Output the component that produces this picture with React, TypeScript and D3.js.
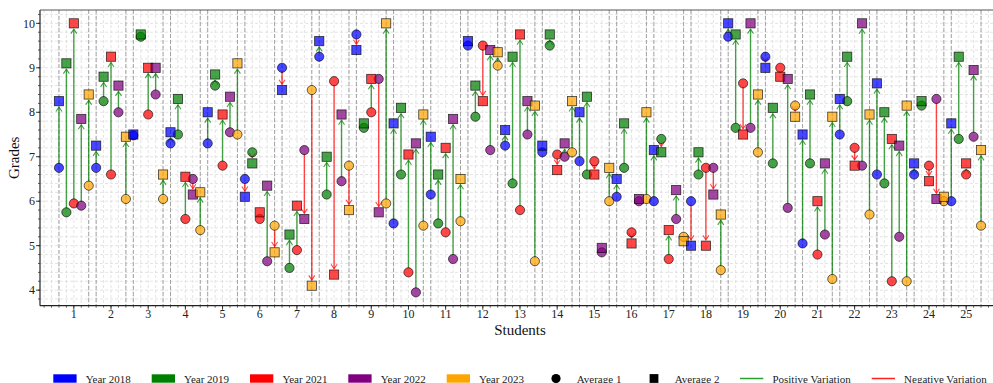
import React from 'react';
import * as d3 from 'd3';

// Students 1..25, one group of five years each
const students = d3.range(1, 26);
const years = ['2018', '2019', '2021', '2022', '2023'];
const yearColors = ['#0000ff', '#008000', '#ff0000', '#800080', '#ffa500'];

// Average 1 (circles) per year
const avg1_2018 = [6.75, 6.75, 7.48, 7.3, 7.3, 6.5, 9.0, 9.25, 9.75, 5.5, 6.15, 9.5, 7.25, 7.1, 6.9, 6.1, 6.0, 6.0, 9.7, 9.25, 5.05, 7.5, 6.6, 6.6, 6.0];
const avg1_2019 = [5.75, 8.25, 9.7, 7.5, 8.6, 7.1, 4.5, 6.15, 7.65, 6.6, 5.5, 7.9, 6.4, 9.5, 6.6, 6.75, 7.4, 6.6, 7.65, 6.85, 6.85, 8.25, 6.4, 8.15, 7.4];
const avg1_2021 = [5.95, 6.6, 7.95, 5.6, 6.8, 5.6, 4.9, 8.7, 8.0, 4.4, 5.3, 9.5, 5.8, 7.05, 6.9, 5.3, 4.7, 6.75, 8.65, 9.0, 4.8, 7.2, 4.2, 6.8, 6.6];
const avg1_2022 = [5.9, 8.0, 8.4, 6.5, 7.55, 4.65, 7.15, 6.45, 8.75, 3.95, 4.7, 7.15, 7.5, 7.0, 4.85, 6.0, 5.6, 6.75, 7.65, 5.85, 5.25, 6.8, 5.2, 8.3, 7.45];
const avg1_2023 = [6.35, 6.05, 6.05, 5.35, 7.5, 5.45, 8.5, 6.8, 5.95, 5.45, 5.55, 9.05, 4.65, 7.1, 6.0, 6.05, 5.2, 4.45, 7.1, 8.15, 4.25, 5.7, 4.2, 6.0, 5.45];

// Average 2 (squares) per year
const avg2_2018 = [8.25, 7.25, 7.5, 7.55, 8.0, 6.1, 8.5, 9.6, 9.4, 7.75, 7.45, 9.6, 7.6, 7.25, 8.0, 6.5, 7.15, 5.0, 10.0, 9.0, 7.5, 8.3, 8.65, 6.85, 7.75];
const avg2_2019 = [9.1, 8.8, 9.75, 8.3, 8.85, 6.85, 5.25, 7.0, 7.75, 8.1, 6.6, 8.6, 9.25, 9.75, 8.35, 7.75, 7.1, 7.1, 9.75, 8.1, 8.4, 9.25, 8.0, 8.25, 9.25];
const avg2_2021 = [10.0, 9.25, 9.0, 6.55, 7.95, 5.75, 5.9, 4.35, 8.75, 7.05, 7.2, 8.25, 9.75, 6.7, 6.6, 5.05, 5.35, 5.0, 7.5, 8.8, 6.0, 6.8, 7.4, 6.45, 6.85];
const avg2_2022 = [7.85, 8.6, 9.0, 6.15, 8.35, 6.35, 5.6, 7.95, 5.75, 7.3, 7.85, 9.4, 8.25, 7.3, 4.95, 6.05, 6.25, 6.15, 10.0, 8.75, 6.85, 10.0, 7.25, 6.05, 8.95];
const avg2_2023 = [8.4, 7.45, 6.6, 6.2, 9.1, 4.85, 4.1, 5.8, 10.0, 7.95, 6.5, 9.35, 8.15, 8.25, 6.75, 8.0, 5.1, 5.7, 8.4, 7.9, 7.9, 7.95, 8.15, 6.1, 7.15];

const avg1 = [avg1_2018, avg1_2019, avg1_2021, avg1_2022, avg1_2023];
const avg2 = [avg2_2018, avg2_2019, avg2_2021, avg2_2022, avg2_2023];
const yearOffsets = [-0.4, -0.2, 0, 0.2, 0.4];

const yTicks = [4, 5, 6, 7, 8, 9, 10];
const legendLabels = ['Year 2018', 'Year 2019', 'Year 2021', 'Year 2022', 'Year 2023', 'Average 1', 'Average 2', 'Positive Variation', 'Negative Variation'];

const W = 993;
const H = 383;
const font = "'Liberation Serif', 'Times New Roman', serif";

const App = () => {
  const x = d3.scaleLinear().domain([0.09, 25.91]).range([40, 1000]);
  const y = d3.scaleLinear().domain([3.65, 10.3]).range([305.7, 10]);
  const [x0, x1] = x.range();
  const [y0, y1] = y.range();

  const minorX = d3.range(1, 130).map(i => +(i * 0.2).toFixed(1)).filter(v => v < 25.91);
  const minorY = d3.range(19, 52).map(i => +(i * 0.2).toFixed(1));
  const groupEdges = students.flatMap(s => [s - 0.4, s + 0.4]);

  // one point record per student & year
  const points = students.flatMap((s, si) =>
    years.map((yr, yi) => ({
      key: `${s}-${yr}`,
      xv: s + yearOffsets[yi],
      a: avg1[yi][si],
      b: avg2[yi][si],
      color: yearColors[yi],
    }))
  );

  const arrow = (p) => {
    const px = x(p.xv);
    const ya = y(p.a);
    const yb = y(p.b);
    const d = yb - ya;
    if (Math.abs(d) < 10) return null;
    const dir = Math.sign(d);
    const tip = yb - dir * 5.8;
    const start = ya + dir * 4;
    const col = p.b >= p.a ? '#008000' : '#ff0000';
    return (
      <g key={'a' + p.key} stroke={col} strokeOpacity={0.72} fill="none" strokeWidth={1.4}>
        <line x1={px} x2={px} y1={start} y2={tip} />
        <path d={`M${px - 3},${tip - dir * 4.5} L${px},${tip} L${px + 3},${tip - dir * 4.5}`} strokeWidth={1.1} />
      </g>
    );
  };

  const legendX = [53.3, 151.7, 250, 348.3, 446.7, 544.3, 642.3, 740, 871.7];
  const legendY = 378.5;

  return (
    <svg width={W} height={H} style={{ position: 'absolute', left: 0, top: 0, background: '#fff' }} fontFamily={font}>
      <defs>
        <clipPath id="plot">
          <rect x={x0} y={y1} width={x1 - x0} height={y0 - y1} />
        </clipPath>
      </defs>

      {/* grid */}
      <g clipPath="url(#plot)">
        {minorX.map(v => (
          <line key={'gx' + v} x1={x(v)} x2={x(v)} y1={y1} y2={y0} stroke="#d9d9d9" strokeWidth={0.7} strokeDasharray="3,2" />
        ))}
        {minorY.map(v => (
          <line key={'gy' + v} x1={x0} x2={x1} y1={y(v)} y2={y(v)} stroke="#d9d9d9" strokeWidth={0.7} strokeDasharray="3,2" />
        ))}
        {groupEdges.map((v, i) => (
          <line key={'ge' + i} x1={x(v)} x2={x(v)} y1={y1} y2={y0} stroke="#9a9a9a" strokeWidth={0.9} strokeDasharray="4,2" />
        ))}
      </g>

      {/* arrows and markers */}
      <g clipPath="url(#plot)">
        {points.map(arrow)}
        {points.map(p => (
          <circle key={'c' + p.key} cx={x(p.xv)} cy={y(p.a)} r={4.6} fill={p.color} fillOpacity={0.72} stroke="#000" strokeOpacity={0.75} strokeWidth={0.8} />
        ))}
        {points.map(p => (
          <rect key={'s' + p.key} x={x(p.xv) - 4.6} y={y(p.b) - 4.6} width={9.2} height={9.2} fill={p.color} fillOpacity={0.72} stroke="#000" strokeOpacity={0.75} strokeWidth={0.8} />
        ))}
      </g>

      {/* axes frame */}
      <line x1={x0} x2={x0} y1={y1} y2={y0} stroke="#222" strokeWidth={1.2} />
      <line x1={x0} x2={x1} y1={y0} y2={y0} stroke="#222" strokeWidth={1.2} />
      <line x1={x0} x2={x1} y1={y1} y2={y1} stroke="#555" strokeWidth={1} />
      <line x1={x1} x2={x1} y1={y1} y2={y0} stroke="#555" strokeWidth={1} />

      {/* y ticks */}
      {minorY.map(v => (
        <line key={'ty' + v} x1={x0 - 2} x2={x0} y1={y(v)} y2={y(v)} stroke="#222" strokeWidth={0.7} />
      ))}
      {yTicks.map(v => (
        <g key={'yt' + v}>
          <line x1={x0 - 4} x2={x0} y1={y(v)} y2={y(v)} stroke="#222" strokeWidth={0.9} />
          <text x={x0 - 5} y={y(v)} dy="0.35em" textAnchor="end" fontSize={12} fill="#222">{v}</text>
        </g>
      ))}

      {/* x ticks */}
      {minorX.map(v => (
        <line key={'tx' + v} x1={x(v)} x2={x(v)} y1={y0} y2={y0 + 2} stroke="#222" strokeWidth={0.7} />
      ))}
      {students.map(s => (
        <g key={'xt' + s}>
          <line x1={x(s)} x2={x(s)} y1={y0} y2={y0 + 4} stroke="#222" strokeWidth={0.9} />
          <text x={x(s)} y={318} textAnchor="middle" fontSize={12} fill="#222">{s}</text>
        </g>
      ))}

      {/* axis titles */}
      <text transform={`translate(19,${(y0 + y1) / 2}) rotate(-90)`} textAnchor="middle" fontSize={15} fill="#111">Grades</text>
      <text x={(x0 + x1) / 2} y={335} textAnchor="middle" fontSize={15} fill="#111">Students</text>

      {/* legend */}
      {legendLabels.map((label, i) => {
        const lx = legendX[i];
        let handle;
        if (i < 5) {
          handle = <rect x={lx} y={legendY - 4.2} width={23.3} height={8.4} fill={yearColors[i]} />;
        } else if (i === 5) {
          handle = <circle cx={lx + 11.7} cy={legendY} r={4.6} fill="#000" />;
        } else if (i === 6) {
          handle = <rect x={lx + 11.7 - 4.4} y={legendY - 4.4} width={8.8} height={8.8} fill="#000" />;
        } else {
          handle = <line x1={lx} x2={lx + 23.3} y1={legendY} y2={legendY} stroke={i === 7 ? '#2ca02c' : '#ff2020'} strokeWidth={1.5} />;
        }
        return (
          <g key={'lg' + i}>
            {handle}
            <text x={lx + 32.4} y={legendY + 4} fontSize={11} fill="#222">{label}</text>
          </g>
        );
      })}
    </svg>
  );
};

export default App;
